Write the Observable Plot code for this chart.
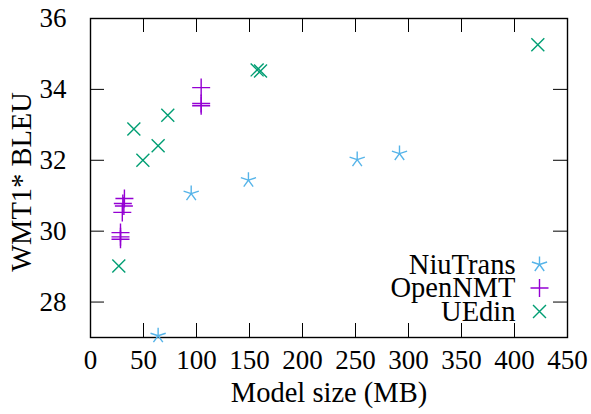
<!DOCTYPE html>
<html>
<head>
<meta charset="utf-8">
<script src="https://cdn.jsdelivr.net/npm/d3@7"></script>
<script src="https://cdn.jsdelivr.net/npm/@observablehq/plot@0.6"></script>
<style>
  html, body { margin: 0; padding: 0; background: #fff; }
  #chart svg, #chart svg text, #chart svg g { font-family: 'Liberation Serif', serif !important; }
</style>
</head>
<body>
<div id="chart"></div>
<script>
// ---- data ----
const niuX = [63.8, 95, 149, 251.6, 291.5];
const niuY = [27.05, 31.06, 31.44, 32.02, 32.19];
const onmtX = [28.3, 28.3, 28.3, 30, 31.5, 30.5, 32, 104.4, 104.4, 104.4];
const onmtY = [29.77, 29.84, 29.96, 30.53, 30.71, 30.78, 30.92, 33.54, 33.60, 34.05];
const uedX = [26.7, 40.9, 49.4, 63.8, 72.9, 157.2, 160.4, 422];
const uedY = [29.02, 32.88, 32.0, 32.41, 33.27, 34.55, 34.52, 35.26];
const seriesNames = ["NiuTrans", "OpenNMT", "UEdin"];
const seriesColors = ["#56b4e9", "#9400d3", "#009e73"];
const xTicks = [0, 50, 100, 150, 200, 250, 300, 350, 400, 450];
const yTicks = [28, 30, 32, 34, 36];
const xLabel = "Model size (MB)";
const yLabel = "WMT1* BLEU";

// ---- custom gnuplot-like symbols ----
const rOf = s => Math.sqrt(s / Math.PI);
const symAsterisk = {draw(ctx, size) {
  const r = rOf(size);
  for (let k = 0; k < 5; k++) {
    const a = -Math.PI / 2 + k * 2 * Math.PI / 5;
    ctx.moveTo(0, 0); ctx.lineTo(r * Math.cos(a), r * Math.sin(a));
  }
}};
const symPlus = {draw(ctx, size) {
  const r = rOf(size);
  ctx.moveTo(-r, 0); ctx.lineTo(r, 0);
  ctx.moveTo(0, -r); ctx.lineTo(0, r);
}};
const symTimes = {draw(ctx, size) {
  const r = rOf(size) * 0.72;
  ctx.moveTo(-r, -r); ctx.lineTo(r, r);
  ctx.moveTo(-r, r); ctx.lineTo(r, -r);
}};
const symbols = [symAsterisk, symPlus, symTimes];
const radii = [8, 9, 9];

const series = [
  niuX.map((x, i) => ({x, y: niuY[i]})),
  onmtX.map((x, i) => ({x, y: onmtY[i]})),
  uedX.map((x, i) => ({x, y: uedY[i]}))
];

const W = 591, H = 414, mL = 90, mR = 24, mT = 18, mB = 77;
const frameW = W - mL - mR, frameH = H - mT - mB;
const tickLen = 14;
const FS = 27;   // tick labels
const FL = 28.5; // axis labels & legend
const FF = "Liberation Serif, serif";

const marks = [];
// ticks (inward on all sides)
marks.push(Plot.ruleX(xTicks, {x: d => d, insetTop: frameH - tickLen, stroke: "black", strokeWidth: 1}));
marks.push(Plot.ruleX(xTicks, {x: d => d, insetBottom: frameH - tickLen, stroke: "black", strokeWidth: 1}));
marks.push(Plot.ruleY(yTicks, {y: d => d, insetRight: frameW - tickLen, stroke: "black", strokeWidth: 1}));
marks.push(Plot.ruleY(yTicks, {y: d => d, insetLeft: frameW - tickLen, stroke: "black", strokeWidth: 1}));
marks.push(Plot.axisX(xTicks, {tickSize: 0, tickPadding: 12, fontSize: FS, fontFamily: FF, label: null, tickFormat: d => String(d)}));
marks.push(Plot.axisY(yTicks, {tickSize: 0, tickPadding: 24, fontSize: FS, fontFamily: FF, label: null, tickFormat: d => String(d)}));
marks.push(Plot.frame({stroke: "black", strokeWidth: 1.4}));

// data points
series.forEach((data, i) => {
  marks.push(Plot.dot(data, {x: "x", y: "y", symbol: symbols[i], r: radii[i],
    fill: "none", stroke: seriesColors[i], strokeWidth: 1.4}));
});

// legend (bottom-right inside frame)
const rowOffsets = [-73, -49.5, -26];
seriesNames.forEach((name, i) => {
  marks.push(Plot.text([name], {text: d => d, frameAnchor: "bottom-right", dx: -52, dy: rowOffsets[i],
    textAnchor: "end", lineAnchor: "middle", fontSize: FL, fontFamily: FF, fill: "black"}));
  marks.push(Plot.dot([name], {frameAnchor: "bottom-right", dx: -28, dy: rowOffsets[i],
    symbol: symbols[i], r: radii[i], fill: "none", stroke: seriesColors[i], strokeWidth: 1.4}));
});

// axis labels
marks.push(Plot.text([xLabel], {text: d => d, frameAnchor: "bottom", dy: 55, textAnchor: "middle", lineAnchor: "middle", fontSize: FL, fontFamily: FF, fill: "black"}));
marks.push(Plot.text([yLabel], {text: d => d, frameAnchor: "left", dx: -69, dy: 4, rotate: -90, textAnchor: "middle", lineAnchor: "middle", fontSize: FL, fontFamily: FF, fill: "black"}));

const chart = Plot.plot({
  width: W, height: H,
  marginLeft: mL, marginRight: mR, marginTop: mT, marginBottom: mB,
  style: {background: "white", overflow: "visible"},
  x: {domain: [0, 450], axis: null},
  y: {domain: [27, 36], axis: null},
  marks
});
chart.style.fontFamily = FF;
document.getElementById("chart").appendChild(chart);
</script>
</body>
</html>
